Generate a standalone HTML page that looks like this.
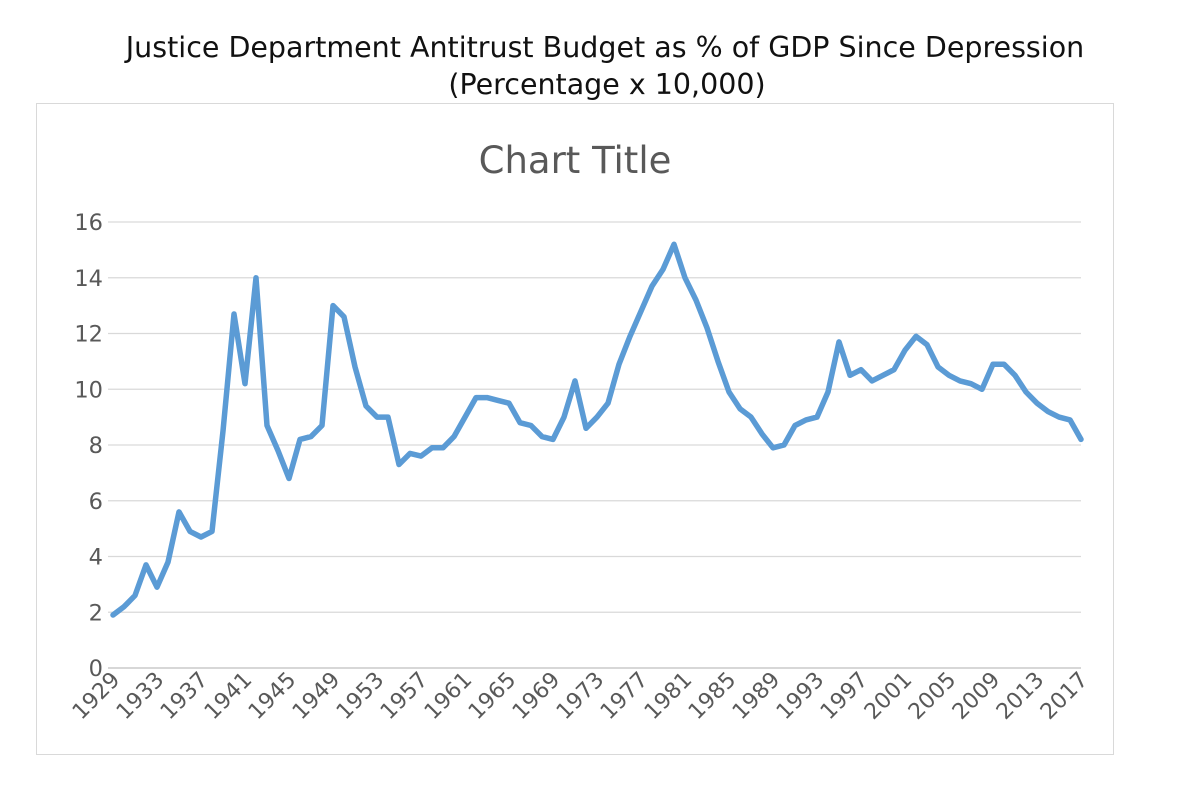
<!DOCTYPE html>
<html><head><meta charset="utf-8"><style>
body{margin:0;background:#fff;width:1200px;height:784px;overflow:hidden;font-family:"DejaVu Sans","Liberation Sans",sans-serif}
</style></head><body>
<svg width="1200" height="784">
<text x="605" y="57" text-anchor="middle" font-size="28.5" fill="#111">Justice Department Antitrust Budget as % of GDP Since Depression</text>
<text x="607" y="94" text-anchor="middle" font-size="28.5" fill="#111">(Percentage x 10,000)</text>
<rect x="36.5" y="103.5" width="1077" height="651" fill="#fff" stroke="#d9d9d9"/>
<text x="575" y="173" text-anchor="middle" font-size="37" fill="#595959">Chart Title</text>
<g id="grid"></g><g id="ylab"></g><g id="xlab"></g>
<path id="line" fill="none" stroke="#5b9bd5" stroke-width="5.5" stroke-linejoin="round" stroke-linecap="round"/>
</svg>
<script>
const startYear = 1929;
const values = [1.9,2.2,2.6,3.7,2.9,3.8,5.6,4.9,4.7,4.9,8.5,12.7,10.2,14.0,8.7,7.8,6.8,8.2,8.3,8.7,13.0,12.6,10.8,9.4,9.0,9.0,7.3,7.7,7.6,7.9,7.9,8.3,9.0,9.7,9.7,9.6,9.5,8.8,8.7,8.3,8.2,9.0,10.3,8.6,9.0,9.5,10.9,11.9,12.8,13.7,14.3,15.2,14.0,13.2,12.2,11.0,9.9,9.3,9.0,8.4,7.9,8.0,8.7,8.9,9.0,9.9,11.7,10.5,10.7,10.3,10.5,10.7,11.4,11.9,11.6,10.8,10.5,10.3,10.2,10.0,10.9,10.9,10.5,9.9,9.5,9.2,9.0,8.9,8.2];
const yTicks = [0,2,4,6,8,10,12,14,16];
const NS='http://www.w3.org/2000/svg';
const x0=113, x1=1081, y0=668, y1=222;
const n=values.length;
const xs=i=>x0+(x1-x0)*i/(n-1);
const ys=v=>y0-(y0-y1)*v/16;
const grid=document.getElementById('grid'), yl=document.getElementById('ylab'), xl=document.getElementById('xlab');
yTicks.forEach(t=>{
  const l=document.createElementNS(NS,'line');
  l.setAttribute('x1',108);l.setAttribute('x2',1081);l.setAttribute('y1',ys(t));l.setAttribute('y2',ys(t));
  l.setAttribute('stroke',t===0?'#bfbfbf':'#d9d9d9');l.setAttribute('stroke-width',1.3);
  
  
  grid.appendChild(l);
  const tx=document.createElementNS(NS,'text');
  tx.setAttribute('x',103);tx.setAttribute('y',ys(t)+8);tx.setAttribute('text-anchor','end');
  tx.setAttribute('font-size',22.5);tx.setAttribute('fill','#595959');tx.textContent=t;
  
  
  yl.appendChild(tx);
});
for(let i=0;i<n;i+=4){
  const x=xs(i), y=y0+13;
  const tx=document.createElementNS(NS,'text');
  tx.setAttribute('x',x+8);tx.setAttribute('y',y);tx.setAttribute('text-anchor','end');
  tx.setAttribute('font-size',22);tx.setAttribute('fill','#595959');
  tx.setAttribute('transform','rotate(-45 '+(x+8)+' '+y+')');
  tx.textContent=startYear+i;
  
  
  xl.appendChild(tx);
}
document.getElementById('line').setAttribute('d',values.map((v,i)=>(i?'L':'M')+xs(i).toFixed(1)+','+ys(v).toFixed(1)).join(''));
</script>
</body></html>
